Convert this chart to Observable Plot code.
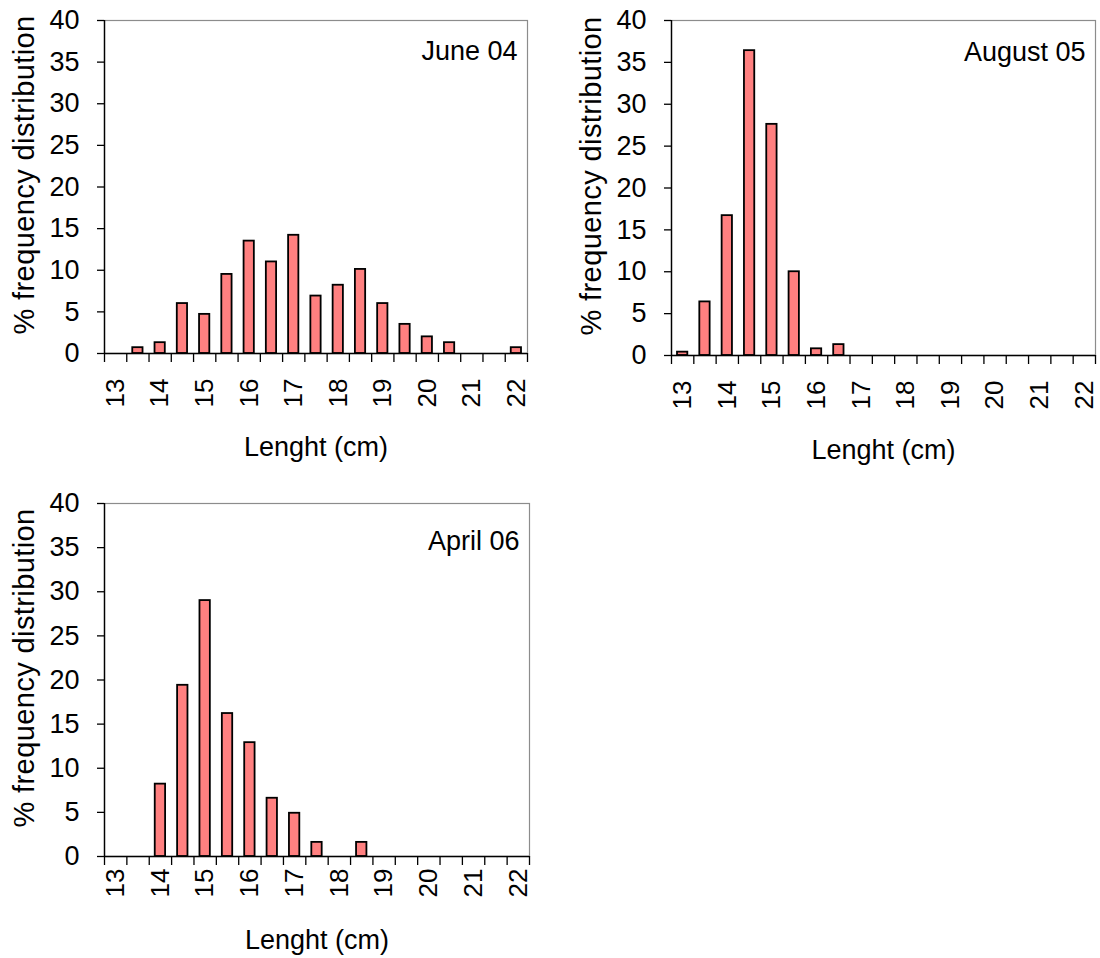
<!DOCTYPE html>
<html><head><meta charset="utf-8">
<script src="https://cdn.jsdelivr.net/npm/d3@7"></script>
<script src="https://cdn.jsdelivr.net/npm/@observablehq/plot@0.6"></script>
<style>
body{margin:0;background:#fff;}
#wrap{position:relative;width:1100px;height:958px;background:#fff;}
#wrap > div{position:absolute;}
</style></head><body>
<div id="wrap"><div id="p1" style="left:0;top:0"></div><div id="p2" style="left:550px;top:0"></div><div id="p3" style="left:0;top:480px"></div></div>
<script>
// Length classes (cm)
const lengths = [13,13.5,14,14.5,15,15.5,16,16.5,17,17.5,18,18.5,19,19.5,20,20.5,21,21.5,22];
// % frequency distribution per sample
const june04   = [0,0.7,1.3,6.0,4.7,9.5,13.5,11.0,14.2,6.9,8.2,10.1,6.0,3.5,2.0,1.3,0,0,0.7];
const august05 = [0.4,6.4,16.7,36.4,27.6,10.0,0.8,1.3,0,0,0,0,0,0,0,0,0,0,0];
const april06  = [0,0,8.2,19.4,29.0,16.2,12.9,6.6,4.9,1.6,0,1.6,0,0,0,0,0,0,0];
const yTicks = [0,5,10,15,20,25,30,35,40];
const xTickLabels = [13,14,15,16,17,18,19,20,21,22];
const panelTitles = ["June 04","August 05","April 06"];
const yTitle = "% frequency distribution";
const xTitle = "Lenght (cm)";

const FONT = '"Liberation Sans", Arial, sans-serif';
const FS = 27;

function panel(id, values, title, o) {
  const data = lengths.map((l,i)=>({len:l, pct: values[i]})).filter(d=>d.pct>0);
  const bounds = lengths.map(l=>l-0.25).concat([lengths[lengths.length-1]+0.25]);
  const chart = Plot.plot({
    width: o.w, height: o.h,
    marginLeft: o.ml, marginRight: o.mr, marginTop: o.mt, marginBottom: o.mb,
    style: {fontFamily: FONT, fontSize: FS + "px", color: "#000", background: "#fff", overflow: "visible"},
    x: {type: "linear", domain: [bounds[0], bounds[bounds.length-1]]},
    y: {domain: [0,40]},
    marks: [
      Plot.frame({stroke: "#8c8c8c", strokeWidth: 1.2}),
      Plot.rectY(data, {x1: d=>d.len-0.25, x2: d=>d.len+0.25, y1: 0, y2: "pct", insetLeft: 6, insetRight: 6, fill: "#ff8080", stroke: "#000", strokeWidth: 1.8}),
      Plot.ruleY([0], {stroke: "#000", strokeWidth: 1.4}),
      Plot.ruleX([bounds[0]], {stroke: "#000", strokeWidth: 1.4}),
      Plot.axisY({ticks: yTicks, tickSize: 7, tickPadding: 18, label: null, fontSize: FS, stroke: "#000", strokeWidth: 1.3}),
      Plot.axisX({ticks: bounds, tickSize: 9, tickFormat: () => "", label: null, stroke: "#000", strokeWidth: 1.3}),
      Plot.axisX({ticks: xTickLabels, tickSize: 0, tickPadding: o.lg, tickRotate: -90, label: null, fontSize: 26}),
      Plot.text([title], {frameAnchor: "top-right", dx: -10, dy: o.td, textAnchor: "end", lineAnchor: "middle", fontSize: FS}),
      Plot.text([yTitle], {frameAnchor: "left", dx: -80, dy: -12, rotate: -90, textAnchor: "middle", lineAnchor: "middle", fontSize: 29}),
      Plot.text([xTitle], {frameAnchor: "bottom", dy: o.xd, textAnchor: "middle", fontSize: FS, lineAnchor: "middle"})
    ]
  });
  d3.select(chart).selectAll("text").filter(function() { return this.textContent === yTitle; })
    .style("letter-spacing", "0.4px");
  document.getElementById(id).appendChild(chart);
}

panel("p1", june04, panelTitles[0], {w:550, h:480, ml:104, mr:23, mt:20, mb:127, lg:25, td:31, xd:94});
panel("p2", august05, panelTitles[1], {w:550, h:480, ml:121, mr:5, mt:20, mb:125, lg:25, td:32, xd:95});
panel("p3", april06, panelTitles[2], {w:550, h:478, ml:104, mr:21, mt:23, mb:102, lg:12, td:38, xd:84});
</script>
</body></html>
